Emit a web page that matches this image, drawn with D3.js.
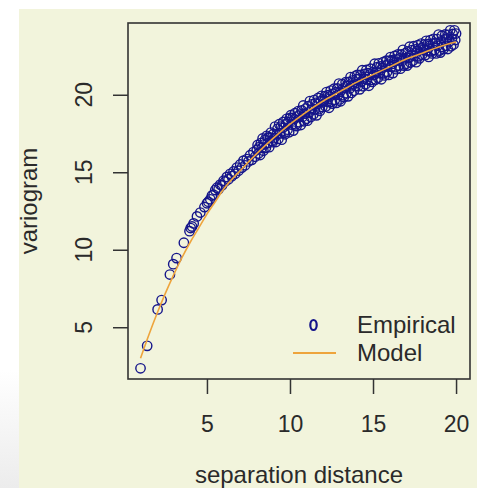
<!DOCTYPE html>
<html>
<head>
<meta charset="utf-8">
<script src="https://cdn.jsdelivr.net/npm/d3@7/dist/d3.min.js"></script>
<style>
  html, body { margin: 0; padding: 0; background: #ffffff; }
  svg { display: block; }
</style>
</head>
<body>
<div id="chart"></div>
<script>
// empirical variogram: lag distance / semivariance
const empDist = [
  1.00, 1.40, 2.03, 2.27, 2.77, 2.97, 3.17, 3.61, 3.95, 4.02, 4.10, 4.20, 4.40, 4.60, 4.85, 5.00, 5.08,
  5.2, 5.3, 5.4, 5.5, 5.6, 5.7, 5.8, 5.9, 6.0, 6.1, 6.2, 6.3, 6.4, 6.5, 6.6, 6.7, 6.8, 6.9,
  7.0, 7.1, 7.2, 7.3, 7.4, 7.5, 7.6, 7.7, 7.8, 7.9, 8.0,
  8.05, 8.1, 8.15, 8.2, 8.25, 8.3, 8.35, 8.4, 8.45, 8.5, 8.55, 8.6, 8.65, 8.7, 8.75, 8.8, 8.85, 8.9, 8.95, 9.0,
  9.05, 9.1, 9.15, 9.2, 9.25, 9.3, 9.35, 9.4, 9.45, 9.5, 9.55, 9.6, 9.65, 9.7, 9.75, 9.8, 9.85, 9.9, 9.95, 10.0,
  10.05, 10.1, 10.15, 10.2, 10.25, 10.3, 10.35, 10.4, 10.45, 10.5, 10.55, 10.6, 10.65, 10.7, 10.75, 10.8, 10.85, 10.9, 10.95, 11.0,
  11.05, 11.1, 11.15, 11.2, 11.25, 11.3, 11.35, 11.4, 11.45, 11.5, 11.55, 11.6, 11.65, 11.7, 11.75, 11.8, 11.85, 11.9, 11.95, 12.0,
  12.05, 12.1, 12.15, 12.2, 12.25, 12.3, 12.35, 12.4, 12.45, 12.5, 12.55, 12.6, 12.65, 12.7, 12.75, 12.8, 12.85, 12.9, 12.95, 13.0,
  13.05, 13.1, 13.15, 13.2, 13.25, 13.3, 13.35, 13.4, 13.45, 13.5, 13.55, 13.6, 13.65, 13.7, 13.75, 13.8, 13.85, 13.9, 13.95, 14.0,
  14.05, 14.1, 14.15, 14.2, 14.25, 14.3, 14.35, 14.4, 14.45, 14.5, 14.55, 14.6, 14.65, 14.7, 14.75, 14.8, 14.85, 14.9, 14.95, 15.0,
  15.05, 15.1, 15.15, 15.2, 15.25, 15.3, 15.35, 15.4, 15.45, 15.5, 15.55, 15.6, 15.65, 15.7, 15.75, 15.8, 15.85, 15.9, 15.95, 16.0,
  16.05, 16.1, 16.15, 16.2, 16.25, 16.3, 16.35, 16.4, 16.45, 16.5, 16.55, 16.6, 16.65, 16.7, 16.75, 16.8, 16.85, 16.9, 16.95, 17.0,
  17.05, 17.1, 17.15, 17.2, 17.25, 17.3, 17.35, 17.4, 17.45, 17.5, 17.55, 17.6, 17.65, 17.7, 17.75, 17.8, 17.85, 17.9, 17.95, 18.0,
  18.05, 18.1, 18.15, 18.2, 18.25, 18.3, 18.35, 18.4, 18.45, 18.5, 18.55, 18.6, 18.65, 18.7, 18.75, 18.8, 18.85, 18.9, 18.95, 19.0,
  19.05, 19.1, 19.15, 19.2, 19.25, 19.3, 19.35, 19.4, 19.45, 19.5, 19.55, 19.6, 19.65, 19.7, 19.75, 19.8, 19.85, 19.9, 19.95, 20.0
];
const empGamma = [
  2.35, 3.80, 6.15, 6.75, 8.40, 9.07, 9.46, 10.45, 11.20, 11.40, 11.50, 11.70, 12.15, 12.40, 12.75, 13.00, 13.10,
  13.25, 13.5, 13.55, 13.85, 14.0, 13.9, 14.2, 14.15, 14.45, 14.4, 14.7, 14.55, 14.9, 14.75, 15.05, 14.9, 15.3, 15.1,
  15.5, 15.3, 15.75, 15.45, 15.85, 15.7, 16.1, 15.8, 16.3, 16.0, 16.45,
  16.76, 16.21, 16.62, 16.11, 16.88, 16.57, 17.18, 16.39, 16.8, 17.09, 16.58, 17.35, 16.88, 17.25, 16.62, 17.23, 17.56, 17.01, 16.94, 17.47,
  17.2, 17.95, 16.95, 17.45, 17.8, 17.15, 18.1, 17.5, 17.95, 17.1, 17.85, 18.25, 17.55, 17.45, 18.1, 18.45, 17.75, 18.25, 17.58, 18.5,
  18.68, 18.07, 18.5, 17.69, 18.42, 18.81, 18.09, 17.98, 18.61, 18.95, 18.23, 18.72, 18.05, 18.99, 18.57, 19.31, 18.29, 18.78, 19.11, 18.45,
  18.33, 19.27, 18.85, 19.59, 18.57, 19.06, 19.39, 18.73, 19.66, 19.05, 19.48, 18.67, 19.4, 19.79, 19.07, 18.96, 19.59, 19.93, 19.21, 19.7,
  19.58, 19.91, 19.24, 20.17, 19.55, 19.98, 19.16, 19.89, 20.27, 19.55, 19.43, 20.06, 20.39, 19.67, 20.15, 19.48, 20.41, 19.99, 20.72, 19.7,
  19.58, 20.31, 20.69, 19.97, 19.85, 20.48, 20.81, 20.09, 20.57, 19.9, 20.83, 20.41, 21.14, 20.12, 20.6, 20.93, 20.26, 21.19, 20.57, 21.0,
  21.28, 20.55, 21.03, 20.35, 21.28, 20.85, 21.58, 20.55, 21.03, 21.35, 20.68, 21.6, 20.98, 21.4, 20.58, 21.3, 21.68, 20.95, 20.83, 21.45,
  21.28, 22.0, 20.98, 21.45, 21.78, 21.1, 22.03, 21.4, 21.83, 21.0, 21.73, 22.1, 21.38, 21.25, 21.88, 22.2, 21.48, 21.95, 21.28, 22.2,
  22.43, 21.8, 22.23, 21.4, 22.13, 22.5, 21.78, 21.65, 22.28, 22.6, 21.88, 22.35, 21.68, 22.6, 22.18, 22.9, 21.88, 22.35, 22.68, 22.0,
  21.88, 22.8, 22.38, 23.1, 22.08, 22.55, 22.88, 22.2, 23.13, 22.5, 22.93, 22.1, 22.83, 23.2, 22.48, 22.35, 22.98, 23.3, 22.58, 23.05,
  22.92, 23.24, 22.56, 23.48, 22.85, 23.27, 22.44, 23.16, 23.53, 22.8, 22.67, 23.29, 23.61, 22.88, 23.35, 22.67, 23.59, 23.16, 23.88, 22.85,
  22.72, 23.44, 23.81, 23.08, 22.95, 23.57, 23.89, 23.16, 23.63, 22.95, 23.87, 23.44, 24.16, 23.13, 23.6, 23.92, 23.24, 24.16, 23.53, 23.95
];

// fitted model curve
const modelDist  = [1, 1.5, 2, 2.5, 3, 3.5, 4, 4.5, 5, 5.5, 6, 7, 8, 9, 10, 11, 12, 13, 14, 15, 16, 17, 18, 19, 20];
const modelGamma = [3.0, 4.5, 5.9, 7.2, 8.4, 9.5, 10.5, 11.4, 12.3, 13.1, 13.9, 15.1, 16.2, 17.2, 18.1, 18.9, 19.6, 20.2, 20.8, 21.3, 21.8, 22.3, 22.7, 23.1, 23.4];

const xTicks = [5, 10, 15, 20];
const yTicks = [5, 10, 15, 20];
const legendLabels = ["Empirical", "Model"];

const W = 477, H = 488;
const box = { left: 128, right: 470, top: 23, bottom: 379 };
const fontFam = "'Liberation Sans', Arial, Helvetica, sans-serif";
const textCol = "#2a2a2a";
const pointCol = "#15158a";
const lineCol = "#eea43c";

const svg = d3.select("#chart").append("svg")
    .attr("width", W)
    .attr("height", H);

// page background (cream panel, white margins)
svg.append("rect").attr("width", W).attr("height", H).attr("fill", "#ffffff");
const grad = svg.append("defs").append("linearGradient")
    .attr("id", "fade").attr("x1", 0).attr("y1", 0).attr("x2", 0).attr("y2", 1);
grad.append("stop").attr("offset", "0%").attr("stop-color", "#ffffff");
grad.append("stop").attr("offset", "100%").attr("stop-color", "#ececec");
svg.append("rect").attr("x", 0).attr("y", 370).attr("width", 19).attr("height", H - 370).attr("fill", "url(#fade)");
svg.append("rect").attr("x", 19).attr("y", 9).attr("width", W - 19).attr("height", H - 9).attr("fill", "#f2f4dc");

const x = d3.scaleLinear().domain([0.246, 20.84]).range([box.left, box.right]);
const y = d3.scaleLinear().domain([1.66, 24.63]).range([box.bottom, box.top]);

// axes (R style: ticks outward, no domain line)
const xAxis = svg.append("g")
    .attr("transform", `translate(0,${box.bottom})`)
    .call(d3.axisBottom(x).tickValues(xTicks).tickSize(15).tickPadding(22).tickFormat(d3.format("d")));
xAxis.select(".domain").remove();
xAxis.selectAll("line").attr("stroke", "#333").attr("stroke-width", 1.5);
xAxis.selectAll("text")
    .attr("fill", textCol).style("font-family", fontFam).style("font-size", "23px");

const yAxis = svg.append("g")
    .attr("transform", `translate(${box.left},0)`)
    .call(d3.axisLeft(y).tickValues(yTicks).tickSize(15).tickFormat(""));
yAxis.select(".domain").remove();
yAxis.selectAll("line").attr("stroke", "#333").attr("stroke-width", 1.5);

// y tick labels rotated, like R's las=0
svg.selectAll(".ylab")
    .data(yTicks)
    .join("text")
    .attr("class", "ylab")
    .attr("transform", d => `translate(92,${y(d)}) rotate(-90)`)
    .attr("text-anchor", "middle")
    .attr("fill", textCol)
    .style("font-family", fontFam).style("font-size", "23px")
    .text(d => d);

// empirical points
svg.append("g")
    .selectAll("circle")
    .data(empDist.map((d, i) => [d, empGamma[i]]))
    .join("circle")
    .attr("cx", d => x(d[0]))
    .attr("cy", d => y(d[1]))
    .attr("r", 4.7)
    .attr("fill", "none")
    .attr("stroke", pointCol)
    .attr("stroke-width", 1.4);

// model line
const line = d3.line()
    .x(d => x(d[0]))
    .y(d => y(d[1]))
    .curve(d3.curveMonotoneX);
svg.append("path")
    .datum(modelDist.map((d, i) => [d, modelGamma[i]]))
    .attr("d", line)
    .attr("fill", "none")
    .attr("stroke", lineCol)
    .attr("stroke-width", 1.6);

// plot box
svg.append("rect")
    .attr("x", box.left).attr("y", box.top)
    .attr("width", box.right - box.left).attr("height", box.bottom - box.top)
    .attr("fill", "none").attr("stroke", "#333").attr("stroke-width", 1.6);

// legend
svg.append("ellipse")
    .attr("cx", 313.5).attr("cy", 325).attr("rx", 3.2).attr("ry", 5)
    .attr("fill", "none").attr("stroke", pointCol).attr("stroke-width", 2.2);
svg.append("line")
    .attr("x1", 293).attr("x2", 336).attr("y1", 353).attr("y2", 353)
    .attr("stroke", lineCol).attr("stroke-width", 2);
svg.selectAll(".legtext")
    .data(legendLabels)
    .join("text")
    .attr("class", "legtext")
    .attr("x", 357)
    .attr("y", (d, i) => 333 + i * 28)
    .attr("fill", textCol)
    .style("font-family", fontFam).style("font-size", "24px")
    .text(d => d);

// axis titles
svg.append("text")
    .attr("x", (box.left + box.right) / 2).attr("y", 483)
    .attr("text-anchor", "middle")
    .attr("fill", textCol)
    .style("font-family", fontFam).style("font-size", "24px")
    .text("separation distance");

svg.append("text")
    .attr("transform", `translate(37,${(box.top + box.bottom) / 2}) rotate(-90)`)
    .attr("text-anchor", "middle")
    .attr("fill", textCol)
    .style("font-family", fontFam).style("font-size", "24px")
    .text("variogram");
</script>
</body>
</html>
